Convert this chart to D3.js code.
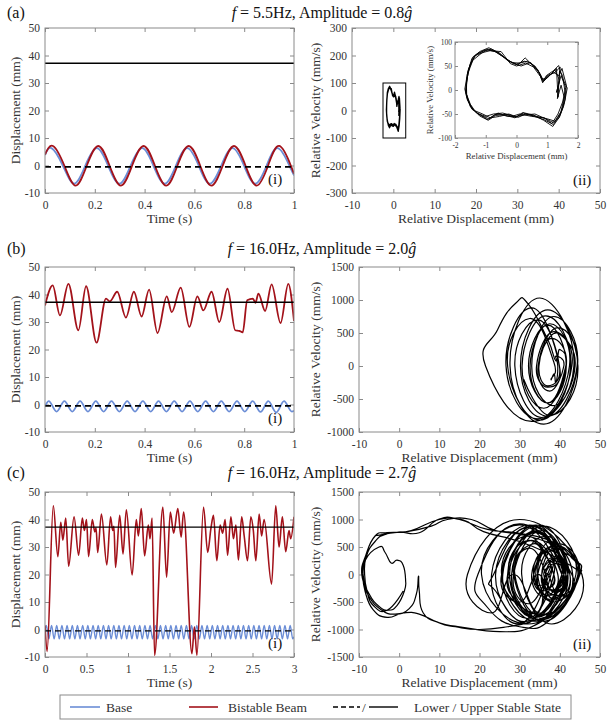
<!DOCTYPE html>
<html>
<head>
<meta charset="utf-8">
<script src="https://cdn.jsdelivr.net/npm/d3@7"></script>
<style>
  body { margin: 0; background: #fff; }
  svg text { font-family: "Liberation Serif", "Times New Roman", serif; }
</style>
</head>
<body>
<div id="fig"></div>
<script>
// ---------- data ----------
const upperState = 37.2;
const lowerState = -0.5;

// (a) f = 5.5 Hz, 0.8g : time (s), displacement (mm)
const baseA = [[0,3.8],[0.026,6.3],[0.0715,0],[0.117,-6.6],[0.162,0],[0.208,6.3],[0.253,0],[0.299,-6.6],[0.344,0],
  [0.39,6.3],[0.435,0],[0.481,-6.6],[0.526,0],[0.571,6.3],[0.617,0],[0.662,-6.6],[0.708,0],[0.753,6.3],[0.799,0],
  [0.844,-6.6],[0.89,0],[0.935,6.3],[0.981,0],[1,-3.6]];
const beamA = [[0,4.0],[0.032,7.1],[0.0775,0],[0.123,-7.3],[0.168,0],[0.214,7.1],[0.259,0],[0.305,-7.3],[0.35,0],
  [0.396,7.1],[0.441,0],[0.487,-7.3],[0.532,0],[0.577,7.1],[0.623,0],[0.668,-7.3],[0.714,0],[0.759,7.1],[0.805,0],
  [0.85,-7.3],[0.896,0],[0.941,7.1],[0.987,0],[1,-3.0]];

// (b) f = 16 Hz, 2.0g
const baseB = [[0,-0.7],[0.015,1.2],[0.0465,-2.6],[0.078,1.2],[0.1095,-2.6],[0.141,1.2],[0.1725,-2.6],[0.204,1.2],
  [0.2355,-2.6],[0.267,1.2],[0.2985,-2.6],[0.33,1.2],[0.3615,-2.6],[0.393,1.2],[0.4245,-2.6],[0.456,1.2],[0.4875,-2.6],
  [0.519,1.2],[0.5505,-2.6],[0.582,1.2],[0.6135,-2.6],[0.645,1.2],[0.6765,-2.6],[0.708,1.2],[0.7395,-2.6],[0.771,1.2],
  [0.8025,-2.6],[0.834,1.2],[0.8655,-2.7],[0.897,1.2],[0.9285,-2.9],[0.96,1.2],[0.9915,-2.6],[1,-2.3]];
const beamB = [[0,36],[0.031,43.3],[0.06,32.4],[0.094,43.9],[0.134,27],[0.165,43],[0.207,22.5],[0.245,38.5],[0.26,37.5],
  [0.29,41],[0.325,31.6],[0.357,41],[0.388,32],[0.418,41.8],[0.452,26],[0.489,39.3],[0.509,33.6],[0.545,42.5],
  [0.58,28.2],[0.612,39.3],[0.636,34.2],[0.669,41],[0.7,30],[0.733,42.1],[0.764,27],[0.78,26.8],[0.794,26.2],
  [0.812,37.9],[0.835,38.5],[0.845,37],[0.857,40.3],[0.884,34],[0.91,43.7],[0.946,29.6],[0.977,43.9],[1,30.4]];

// (c) f = 16 Hz, 2.7g
const baseC = [[0,-0.5],[0.016,1.5],[0.047,-3.4],[0.079,1.5],[0.11,-3.4],[0.141,1.5],[0.172,-3.4],[0.204,1.5],[0.235,-3.4],
  [0.266,1.5],[0.297,-3.4],[0.329,1.5],[0.36,-3.4],[0.391,1.5],[0.422,-3.4],[0.454,1.5],[0.485,-3.4],[0.516,1.5],
  [0.547,-3.4],[0.579,1.5],[0.61,-3.4],[0.641,1.5],[0.672,-3.4],[0.704,1.5],[0.735,-3.4],[0.766,1.5],[0.797,-3.4],
  [0.829,1.5],[0.86,-3.4],[0.891,1.5],[0.922,-3.4],[0.954,1.5],[0.985,-3.4],[1.016,1.5],[1.047,-3.4],[1.079,1.5],
  [1.11,-3.4],[1.141,1.5],[1.172,-3.4],[1.204,1.5],[1.235,-3.4],[1.266,1.5],[1.297,-3.4],[1.329,1.5],[1.36,-3.4],
  [1.391,1.5],[1.422,-3.4],[1.454,1.5],[1.485,-3.4],[1.516,1.5],[1.547,-3.4],[1.579,1.5],[1.61,-3.4],[1.641,1.5],
  [1.672,-3.4],[1.704,1.5],[1.735,-3.4],[1.766,1.5],[1.797,-3.4],[1.829,1.5],[1.86,-3.4],[1.891,1.5],[1.922,-3.4],
  [1.954,1.5],[1.985,-3.4],[2.016,1.5],[2.047,-3.4],[2.079,1.5],[2.11,-3.4],[2.141,1.5],[2.172,-3.4],[2.204,1.5],
  [2.235,-3.4],[2.266,1.5],[2.297,-3.4],[2.329,1.5],[2.36,-3.4],[2.391,1.5],[2.422,-3.4],[2.454,1.5],[2.485,-3.4],
  [2.516,1.5],[2.547,-3.4],[2.579,1.5],[2.61,-3.4],[2.641,1.5],[2.672,-3.4],[2.704,1.5],[2.735,-3.4],[2.766,1.5],
  [2.797,-3.4],[2.829,1.5],[2.86,-3.4],[2.891,1.5],[2.922,-3.4],[2.954,1.5],[2.985,-3.4],[3,-2.6]];
const beamC = [[0,1.5],[0.025,-8],[0.1,45],[0.155,26.5],[0.19,39],[0.215,32.5],[0.25,40.5],[0.285,23],[0.35,41],
  [0.405,27],[0.45,40.5],[0.475,36],[0.5,40],[0.525,26.5],[0.57,40],[0.6,35.5],[0.615,37],[0.635,28],[0.68,42],
  [0.745,23.5],[0.79,41],[0.815,36],[0.83,37.5],[0.85,22.6],[0.9,41.5],[0.94,27.5],[0.98,43.5],[1.05,19.8],[1.1,40],
  [1.125,34],[1.16,44],[1.2,26.8],[1.245,38],[1.265,33],[1.29,40.5],[1.32,-9.4],[1.42,44.5],[1.465,19],[1.51,42.7],
  [1.55,35],[1.6,44],[1.64,33.6],[1.67,42.7],[1.77,-8.8],[1.8,1],[1.83,-9.4],[1.91,44.5],[1.96,28],[2.0,37],
  [2.03,41.5],[2.07,25],[2.11,38],[2.14,35],[2.17,40],[2.2,27],[2.24,41],[2.27,33],[2.3,38],[2.33,25.3],[2.37,41],
  [2.4,34],[2.44,25],[2.48,41],[2.51,36],[2.54,25],[2.58,42],[2.61,34],[2.64,40],[2.73,16.5],[2.78,45],[2.82,30],
  [2.86,41],[2.9,28.3],[2.94,36],[2.96,33],[3,41]];

// phase portraits: relative displacement (mm), relative velocity (mm/s)
const phaseA = [[-1.65,0],[-1.6,32],[-1.45,66],[-1.2,80],[-0.9,88],[-0.55,77],[-0.25,60],[0.05,52],[0.28,67],[0.5,53],
  [0.75,35],[0.85,15],[0.97,30],[1.2,40],[1.37,51],[1.5,24],[1.65,4],[1.55,-30],[1.4,-56],[1.18,-76],[0.88,-63],
  [0.55,-52],[0.2,-47],[-0.02,-57],[-0.35,-51],[-0.68,-53],[-0.92,-63],[-1.18,-52],[-1.45,-40],[-1.6,-20],
  [-1.68,2],[-1.58,40],[-1.4,70],[-1.1,78],[-0.85,82],[-0.5,80],[-0.2,55],[0,50],[0.3,56],[0.55,48],[0.78,28],
  [0.9,20],[1.05,28],[1.25,42],[1.4,20],[1.3,-5],[1.45,30],[1.6,5],[1.5,-25],[1.35,-50],[1.15,-70],[0.9,-58],
  [0.5,-55],[0.1,-50],[-0.1,-54],[-0.45,-48],[-0.75,-50],[-1,-55],[-1.3,-48],[-1.5,-30],[-1.62,-10],
  [-1.63,15],[-1.55,45],[-1.35,72],[-1.05,82],[-0.8,85],[-0.45,70],[-0.15,57],[0.1,56],[0.35,60],[0.6,50],[0.8,30],
  [0.88,18],[1,26],[1.15,35],[1.3,45],[1.35,-15],[1.4,40],[1.5,30],[1.58,-5],[1.52,-35],[1.38,-58],[1.2,-68],
  [0.95,-60],[0.6,-50],[0.25,-52],[0,-55],[-0.3,-55],[-0.6,-48],[-0.9,-60],[-1.25,-50],[-1.5,-35],[-1.63,-8],
  [-1.62,20],[-1.5,55],[-1.3,75],[-1,84],[-0.7,80],[-0.4,68],[-0.1,55],[0.15,50],[0.45,57],[0.7,42],[0.82,22],
  [0.95,25],[1.1,32],[1.28,38],[1.42,48],[1.33,-18],[1.45,10],[1.55,-15],[1.45,-45],[1.25,-65],[1,-60],[0.65,-55],
  [0.3,-50],[0.05,-57],[-0.25,-50],[-0.55,-55],[-0.85,-58],[-1.1,-50],[-1.4,-42],[-1.58,-22],[-1.65,-2],
  [-1.58,35],[-1.42,62],[-1.15,76],[-0.92,85],[-0.6,78],[-0.3,62],[0,54],[0.25,60],[0.48,56],[0.72,38],[0.86,17],
  [1,30],[1.22,36],[1.38,30],[1.48,45],[1.62,10],[1.58,-20],[1.42,-50],[1.2,-72],[0.9,-62],[0.58,-55],[0.22,-48],
  [-0.05,-58],[-0.4,-52],[-0.7,-51],[-0.95,-62],[-1.2,-54],[-1.47,-36],[-1.62,-15],[-1.66,0]];
const zoomBoxA = [[-2.5, -100], [3, 100]];

const phaseB = [[36.5,350],[40,480],[43.8,0],[38.5,-600],[33,0],[38.5,750],[44.4,0],[36,-880],[27.6,0],[35,1030],
  [43.5,0],[33,-840],[21.5,0],[24.5,550],[29,950],[32,950],[37,400],[39,80],[40,250],[41.5,0],[37,-560],[32.2,0],
  [37,620],[41.6,0],[37,-560],[32.6,0],[37.5,640],[42.4,0],[34.5,-800],[26.6,0],[33,880],[39.9,0],[37,-320],
  [34.2,0],[38.5,520],[43,0],[35.5,-780],[28.8,0],[34.5,700],[39.9,0],[37,-300],[34.8,0],[38,420],[41.6,0],
  [36,-640],[30.6,0],[36.5,760],[42.7,0],[35,-820],[27,0],[32.5,720],[38.5,60],[37.8,-200],[38.6,-120],[39,-250],
  [39.5,0],[39,150],[41,0],[37.5,-380],[34.6,0],[39.5,580],[44.3,0],[37,-760],[30.2,0],[37,850],[44.5,0],
  [38,-750],[31,-200]];

const phaseC = [[1,-300],[-3,-650],[-6.5,-560],[-8,-300],[-8.6,0],[-8.2,320],[-6,600],[-3,740],[3,800],[10,1000],
  [16,990],[21,780],[30,600],[38,350],[44,100],[45,0],[41,-500],[36,-720],[30,-550],[27,0],[33,620],[39.5,0],
  [36,-400],[33,0],[37,450],[41,0],[32,-850],[24,-300],[23.5,0],[32,850],[41.5,0],[34,-780],[27.5,0],[34,780],
  [41,0],[38.5,-300],[36.5,0],[38.5,250],[40.5,0],[33.5,-780],[27,0],[34,760],[40.5,0],[38,-280],[36,0],[37.5,100],
  [32.5,-530],[28.5,0],[35.5,800],[42.5,0],[38.5,-450],[35.5,0],[38.5,200],[32,-880],[24,0],[33,880],[41.5,0],
  [38.5,-320],[36.5,0],[38,100],[30,-900],[23,0],[32.5,900],[42,0],[34.5,-820],[28,0],[36,880],[44,0],[32,-900],
  [20.5,0],[30,900],[40.5,0],[37,-380],[34.5,0],[39.5,560],[44.5,0],[35.5,-820],[27.3,0],[32.5,620],[38.5,0],
  [35.5,-300],[33.5,0],[37,450],[41,0],
  [38,-600],[33,-950],[25,-1040],[15,-950],[10,-880],[5,-720],[1,-700],[-3,-780],[-6.5,-640],[-8.5,-300],[-9,0],
  [-8.5,300],[-6.5,650],[-4.5,720],[0,770],[5,760],[10,1010],[15,1000],[22,820],[30,750],[38,600],[43,300],[45,0],
  [38,-800],[30,-950],[22,-600],[19.6,0],[30,920],[43,0],[39,-380],[35.5,0],[39.5,520],[44.5,0],[38.5,-500],[34,0],
  [38.5,520],[43.2,0],
  [40,-600],[33,-850],[27,-950],[20,-1000],[14,-950],[10,-880],[6,-700],[5,-300],[4.8,-30],[4.3,-350],[2.5,-620],
  [-1,-720],[-4.5,-640],[-7.5,-400],[-8.8,-100],[-8.5,250],[-5,500],[-3.5,400],[-2,210],[-0.5,260],[1,170],
  [1.6,-100],[1.3,-300],[-0.5,-560],[-2.7,-650],[-5,-580],[-7.5,-350],[-9.3,0],[-8.3,350],[-6,700],[-3,760],
  [2,780],[8,880],[12,1000],[18,1000],[24,800],[32,700],[40,450],[44.8,0],
  [36,-850],[28.5,0],[33,550],[37.5,250],[42,0],[34,-850],[25.5,0],[32,700],[38.5,0],[36.5,-250],[35.5,0],[38,300],
  [40.5,0],[34,-780],[27.5,0],[34,800],[41.5,0],[37.5,-450],[33.5,0],[36,420],[38.5,0],[32,-800],[25.8,0],[34,900],
  [41.5,0],[38,-430],[34.5,0],[30,-500],[25.5,0],[34,900],[41.5,0],[39,-300],[36.5,0],[34,-700],[25.5,0],[35,900],
  [42.5,0],[38.5,-500],[34.5,0],[37.5,500],[40.5,0],[35,-700],[28.5,0],[23,-700],[17,0],[30,1000],[45.5,0],
  [38,-900],[30.5,0],[36.5,700],[41.5,0],[35,-750],[28.8,0],[32.5,480],[36.5,0],[35,-200],[33.5,0],[37.5,600],
  [41.5,50]];

// ticks and text
const ticksTime1 = [0, 0.2, 0.4, 0.6, 0.8, 1];
const ticksTime3 = [0, 0.5, 1, 1.5, 2, 2.5, 3];
const ticksDisp = [-10, 0, 10, 20, 30, 40, 50];
const ticksRelDisp = [-10, 0, 10, 20, 30, 40, 50];
const ticksVelA = [-300, -200, -100, 0, 100, 200, 300];
const ticksVelB = [-1000, -500, 0, 500, 1000, 1500];
const ticksVelC = [-1500, -1000, -500, 0, 500, 1000, 1500];
const ticksInsetX = [-2, -1, 0, 1, 2];
const ticksInsetY = [-100, -50, 0, 50, 100];
const panelTags = ["(a)", "(b)", "(c)"];
const freqs = ["5.5", "16.0", "16.0"];
const amps = ["0.8", "2.0", "2.7"];
const legendLabels = ["Base", "Bistable Beam", "Lower / Upper Stable State"];

// ---------- drawing ----------
const width = 608, height = 723;
const blue = "#6b8dd6", red = "#a3121a";
const axisGrey = "#8a8a8a", textGrey = "#333";
const serif = "Liberation Serif, Times New Roman, serif";

const svg = d3.select("#fig").append("svg")
  .attr("width", width).attr("height", height)
  .attr("font-family", serif);

let clipCount = 0;
const fmt = d => String(d);

function makeAxes(cfg) {
  const x = d3.scaleLinear().domain(cfg.xd).range([cfg.l, cfg.r]);
  const y = d3.scaleLinear().domain(cfg.yd).range([cfg.b, cfg.t]);
  const g = svg.append("g");
  const id = "clip" + (clipCount++);
  svg.append("clipPath").attr("id", id).append("rect")
    .attr("x", cfg.l).attr("y", cfg.t).attr("width", cfg.r - cfg.l).attr("height", cfg.b - cfg.t);
  g.append("rect").attr("x", cfg.l).attr("y", cfg.t)
    .attr("width", cfg.r - cfg.l).attr("height", cfg.b - cfg.t).attr("fill", "#fff");

  const tk = cfg.tick || 4;
  const fs = cfg.tfs || 11.5;
  const style = sel => {
    sel.select(".domain").remove();
    sel.selectAll(".tick line").attr("stroke", axisGrey);
    sel.selectAll(".tick text").attr("fill", textGrey).attr("font-size", fs).attr("font-family", serif);
  };
  g.append("g").attr("transform", `translate(0,${cfg.b})`)
    .call(d3.axisBottom(x).tickValues(cfg.xt).tickSize(-tk).tickPadding(cfg.xpad || 8).tickFormat(fmt)).call(style);
  g.append("g").attr("transform", `translate(0,${cfg.t})`)
    .call(d3.axisTop(x).tickValues(cfg.xt).tickSize(-tk).tickFormat("")).call(style);
  g.append("g").attr("transform", `translate(${cfg.l},0)`)
    .call(d3.axisLeft(y).tickValues(cfg.yt).tickSize(-tk).tickPadding(cfg.ypad || 5).tickFormat(fmt)).call(style);
  g.append("g").attr("transform", `translate(${cfg.r},0)`)
    .call(d3.axisRight(y).tickValues(cfg.yt).tickSize(-tk).tickFormat("")).call(style);

  const plot = g.append("g").attr("clip-path", `url(#${id})`);
  g.append("rect").attr("x", cfg.l).attr("y", cfg.t)
    .attr("width", cfg.r - cfg.l).attr("height", cfg.b - cfg.t)
    .attr("fill", "none").attr("stroke", axisGrey).attr("stroke-width", 1);

  const lfs = cfg.lfs || 13.5;
  g.append("text").attr("x", (cfg.l + cfg.r) / 2).attr("y", cfg.b + (cfg.xlOff || 30))
    .attr("text-anchor", "middle").attr("font-size", lfs).attr("fill", textGrey).text(cfg.xlabel);
  g.append("text").attr("transform", `translate(${cfg.ylX},${(cfg.t + cfg.b) / 2}) rotate(-90)`)
    .attr("text-anchor", "middle").attr("font-size", lfs).attr("fill", textGrey).text(cfg.ylabel);
  return { x, y, plot, g };
}

function drawSeries(ax, data, color, w, curve) {
  ax.plot.append("path").datum(data)
    .attr("fill", "none").attr("stroke", color).attr("stroke-width", w)
    .attr("stroke-linejoin", "round")
    .attr("d", d3.line().x(d => ax.x(d[0])).y(d => ax.y(d[1])).curve(curve));
}

function drawStates(ax, xd, w) {
  ax.plot.append("line").attr("x1", ax.x(xd[0])).attr("x2", ax.x(xd[1]))
    .attr("y1", ax.y(lowerState)).attr("y2", ax.y(lowerState))
    .attr("stroke", "#000").attr("stroke-width", w).attr("stroke-dasharray", "6,4");
  ax.plot.append("line").attr("x1", ax.x(xd[0])).attr("x2", ax.x(xd[1]))
    .attr("y1", ax.y(upperState)).attr("y2", ax.y(upperState))
    .attr("stroke", "#000").attr("stroke-width", w);
}

function tagText(x, y, txt) {
  svg.append("text").attr("x", x).attr("y", y).attr("font-size", 15).attr("fill", "#111").text(txt);
}

const rows = [
  { t: 28, b: 193, title: 18, timeMax: 1, tt: ticksTime1, yv: [-300, 300], yvt: ticksVelA, rl: 352,
    base: baseA, beam: beamA, phase: phaseA },
  { t: 267, b: 432, title: 254, timeMax: 1, tt: ticksTime1, yv: [-1000, 1500], yvt: ticksVelB, rl: 359,
    base: baseB, beam: beamB, phase: phaseB },
  { t: 492, b: 657, title: 478, timeMax: 3, tt: ticksTime3, yv: [-1500, 1500], yvt: ticksVelC, rl: 359,
    base: baseC, beam: beamC, phase: phaseC }
];

rows.forEach((row, i) => {
  // titles
  svg.append("text").attr("x", 7).attr("y", row.title).attr("font-size", 16).attr("fill", "#111").text(panelTags[i]);
  const tt = svg.append("text").attr("x", 322).attr("y", row.title).attr("text-anchor", "middle")
    .attr("font-size", 16).attr("fill", "#111");
  tt.append("tspan").attr("font-style", "italic").text("f");
  tt.append("tspan").text(` = ${freqs[i]}Hz, Amplitude = ${amps[i]}`);
  tt.append("tspan").attr("font-style", "italic").text("ĝ");

  // time history
  const left = makeAxes({ l: 45, r: 294, t: row.t, b: row.b, xd: [0, row.timeMax], yd: [-10, 50],
    xt: row.tt, yt: ticksDisp, xlabel: "Time (s)", ylabel: "Displacement (mm)", ylX: 20 });
  const curveTs = i === 0 ? d3.curveNatural : d3.curveMonotoneX;
  const lw = i === 2 ? 1.6 : 1.8;
  drawSeries(left, row.base, blue, i === 2 ? 1.4 : 1.8, curveTs);
  drawSeries(left, row.beam, red, lw, curveTs);
  drawStates(left, [0, row.timeMax], i === 2 ? 1.2 : 1.6);

  // phase portrait
  const right = makeAxes({ l: row.rl, r: 600, t: row.t, b: row.b, xd: [-10, 50], yd: row.yv,
    xt: ticksRelDisp, yt: row.yvt, xlabel: "Relative Displacement (mm)", ylabel: "Relative Velocity (mm/s)", ylX: 320 });
  if (i === 0) {
    drawSeries(right, row.phase, "#000", 1.3, d3.curveLinear);
    right.plot.append("rect")
      .attr("x", right.x(zoomBoxA[0][0])).attr("y", right.y(zoomBoxA[1][1]))
      .attr("width", right.x(zoomBoxA[1][0]) - right.x(zoomBoxA[0][0]))
      .attr("height", right.y(zoomBoxA[0][1]) - right.y(zoomBoxA[1][1]))
      .attr("fill", "none").attr("stroke", "#000").attr("stroke-width", 1);
    // inset
    const inset = makeAxes({ l: 455, r: 578, t: 42, b: 138, xd: [-2, 2], yd: [-100, 100],
      xt: ticksInsetX, yt: ticksInsetY, xlabel: "Relative Displacement (mm)", ylabel: "Relative Velocity (mm/s)",
      ylX: 433, tick: 3, tfs: 7.5, lfs: 8.8, xpad: 5, ypad: 3, xlOff: 21 });
    drawSeries(inset, phaseA, "#000", 0.9, d3.curveLinear);
  } else {
    drawSeries(right, row.phase, "#000", 1.2, d3.curveCardinal.tension(-0.45));
  }

  tagText(268, row.b - 9, "(i)");
  if (i !== 1) tagText(573, row.b - 8, "(ii)");
});

// legend
const leg = svg.append("g");
leg.append("rect").attr("x", 60).attr("y", 695).attr("width", 511).attr("height", 24)
  .attr("fill", "#fff").attr("stroke", axisGrey);
const ly = 707;
leg.append("line").attr("x1", 70).attr("x2", 100).attr("y1", ly).attr("y2", ly).attr("stroke", blue).attr("stroke-width", 1.6);
leg.append("text").attr("x", 106).attr("y", ly + 5).attr("font-size", 13.5).attr("fill", textGrey).text(legendLabels[0]);
leg.append("line").attr("x1", 189).attr("x2", 218).attr("y1", ly).attr("y2", ly).attr("stroke", red).attr("stroke-width", 1.6);
leg.append("text").attr("x", 228).attr("y", ly + 5).attr("font-size", 13.5).attr("fill", textGrey).text(legendLabels[1]);
leg.append("line").attr("x1", 333).attr("x2", 360).attr("y1", ly).attr("y2", ly).attr("stroke", "#000")
  .attr("stroke-width", 1.4).attr("stroke-dasharray", "5,3");
leg.append("text").attr("x", 362).attr("y", ly + 5).attr("font-size", 13.5).attr("fill", textGrey).text("/");
leg.append("line").attr("x1", 369).attr("x2", 398).attr("y1", ly).attr("y2", ly).attr("stroke", "#000").attr("stroke-width", 1.4);
leg.append("text").attr("x", 414).attr("y", ly + 5).attr("font-size", 13.5).attr("fill", textGrey).text(legendLabels[2]);
</script>
</body>
</html>
